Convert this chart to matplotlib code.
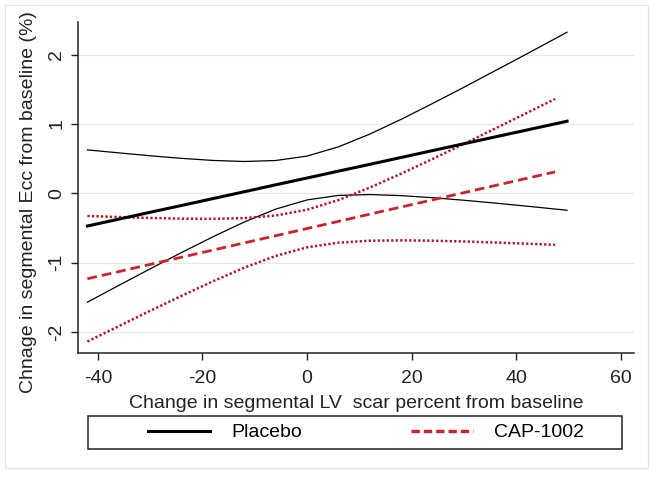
import matplotlib
matplotlib.use("Agg")
import matplotlib.pyplot as plt
from matplotlib.patches import Rectangle
from matplotlib.lines import Line2D

plt.rcParams['font.family'] = ['Liberation Sans', 'DejaVu Sans']
plt.rcParams['axes.unicode_minus'] = False

# ---- data ----
x_placebo = [-42, -36, -30, -24, -18, -12, -6, 0, 6, 12, 18, 24, 30, 36, 42, 49.7]
placebo_fit = [-0.47, -0.371, -0.272, -0.174, -0.075, 0.024, 0.124, 0.222, 0.321, 0.419,
               0.518, 0.617, 0.716, 0.815, 0.913, 1.040]
placebo_upper = [0.627, 0.584, 0.542, 0.505, 0.475, 0.460, 0.474, 0.538, 0.671, 0.855,
                 1.068, 1.296, 1.530, 1.770, 2.010, 2.323]
placebo_lower = [-1.567, -1.326, -1.087, -0.852, -0.625, -0.412, -0.226, -0.094, -0.029, -0.017,
                 -0.032, -0.062, -0.099, -0.140, -0.184, -0.243]

x_cap = [-42, -36, -30, -24, -18, -12, -6, 0, 6, 12, 18, 24, 30, 36, 42, 47.4]
cap_fit = [-1.23, -1.127, -1.023, -0.920, -0.817, -0.713, -0.610, -0.506, -0.403, -0.299,
           -0.196, -0.093, 0.011, 0.114, 0.217, 0.310]
cap_upper = [-0.325, -0.341, -0.354, -0.364, -0.367, -0.356, -0.319, -0.235, -0.096, 0.084,
             0.285, 0.496, 0.715, 0.936, 1.159, 1.361]
cap_lower = [-2.135, -1.913, -1.692, -1.476, -1.267, -1.070, -0.901, -0.777, -0.710, -0.682,
             -0.677, -0.682, -0.693, -0.708, -0.725, -0.741]

xticks = [-40, -20, 0, 20, 40, 60]
yticks = [-2, -1, 0, 1, 2]
series_labels = ["Placebo", "CAP-1002"]
xlabel = "Change in segmental LV  scar percent from baseline"
ylabel = "Chnage in segmental Ecc from baseline (%)"

W, H = 658, 479
FS = 14
fig = plt.figure(figsize=(W / 100, H / 100), dpi=100)

# outer graph region frame
fig.patches.append(Rectangle((5 / W, 1 - 468 / H), (648 - 5) / W, (468 - 5) / H,
                             transform=fig.transFigure, fill=False,
                             edgecolor='#e6e6e6', linewidth=1.0))

ax = fig.add_axes([78 / W, 1 - 353 / H, (634 - 78) / W, (353 - 22) / H])
ax.set_xlim(-43.8, 62.5)
ax.set_ylim(-2.30, 2.47)

red = '#d2202a'
dred = '#c0101e'

ax.plot(x_placebo, placebo_upper, color='black', lw=0.9, zorder=3)
ax.plot(x_placebo, placebo_lower, color='black', lw=0.9, zorder=3)
ax.plot(x_cap, cap_upper, color=dred, lw=1.8, dashes=(0.9, 0.9), zorder=3)
ax.plot(x_cap, cap_lower, color=dred, lw=1.8, dashes=(0.9, 0.9), zorder=3)
ax.plot(x_placebo, placebo_fit, color='black', lw=2.2, zorder=4)
ax.plot(x_cap, cap_fit, color=red, lw=2.0, dashes=(3.5, 1.8), zorder=4)

ax.set_xticks(xticks)
ax.set_yticks(yticks)
ax.grid(axis='y', color='#e8e8e8', lw=0.9)
ax.set_axisbelow(True)
for s in ['top', 'right']:
    ax.spines[s].set_visible(False)
for s in ['left', 'bottom']:
    ax.spines[s].set_linewidth(1.1)
    ax.spines[s].set_color('#222222')
ax.tick_params(axis='both', length=5, width=1.0, labelsize=FS, colors='#222222', pad=4)
ax.tick_params(axis='x', pad=7)
for lab in ax.get_yticklabels():
    lab.set_rotation(90)
    lab.set_va('center')
ax.set_xlabel(xlabel, fontsize=FS, color='#222222', labelpad=6)
ax.set_ylabel(ylabel, fontsize=FS, color='#222222', labelpad=8)
ax.yaxis.set_label_coords(-0.073, 0.455)

# legend box
fig.patches.append(Rectangle((88 / W, 1 - 449 / H), (622 - 88) / W, (449 - 416) / H,
                             transform=fig.transFigure, fill=False,
                             edgecolor='#222222', linewidth=1.1))
handles = [Line2D([], [], color='black', lw=2.2),
           Line2D([], [], color=red, lw=2.4, dashes=(2.5, 1.2))]
fig.legend(handles, series_labels, loc='center', bbox_to_anchor=(366 / W, 1 - 432.5 / H),
           ncol=2, frameon=False, fontsize=FS, handlelength=3.2, handletextpad=1.1,
           columnspacing=5.6)

fig.savefig('out.png', dpi=100, facecolor='white')
